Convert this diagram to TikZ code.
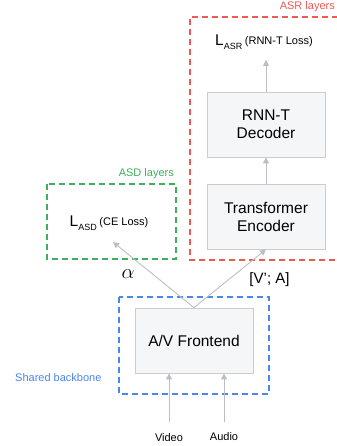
\documentclass[tikz,border=0pt]{standalone}
\usepackage{fontspec}
\setmainfont{Liberation Sans}
\usetikzlibrary{arrows.meta}
\definecolor{asrred}{HTML}{EE5A52}
\definecolor{asdgreen}{HTML}{3FAE5E}
\definecolor{bbblue}{HTML}{4A86EE}
\definecolor{boxfill}{HTML}{F5F6F8}
\definecolor{boxline}{HTML}{CCCCCC}
\definecolor{arrgray}{HTML}{BBBEC4}
\tikzset{
  block/.style={draw=boxline, fill=boxfill, line width=0.8bp, minimum width=118bp, minimum height=65bp, align=center, font=\fontsize{15.5bp}{18bp}\selectfont, inner sep=0pt},
  group/.style={line width=1.6bp, dash pattern=on 6bp off 4bp},
  flow/.style={draw=arrgray, line width=0.9bp, -{Triangle[length=6bp,width=6bp]}},
  grouplabel/.style={font=\fontsize{11bp}{13bp}\selectfont, inner sep=0pt},
  losslabel/.style={inner sep=0pt, font=\fontsize{15.5bp}{17bp}\selectfont}
}
\newcommand{\smalltxt}[1]{{\fontsize{11bp}{13bp}\selectfont #1}}
\newcommand{\subtxt}[1]{{\fontsize{9bp}{11bp}\selectfont #1}}
\begin{document}
\begin{tikzpicture}[x=1bp,y=-1bp]
\useasboundingbox (0,0) rectangle (336,446);
% group boxes
\draw[group, draw=asrred] (338,17) -- (190,17) -- (190,260) -- (338,260);
\draw[group, draw=asdgreen] (47,184) rectangle (176,259);
\draw[group, draw=bbblue] (119,297) rectangle (269,394);
% group labels
\node[grouplabel, text=asrred, anchor=east] (asrlab) at (335,7) {ASR layers};
\node[grouplabel, text=asdgreen, anchor=east] (asdlab) at (174,174) {ASD layers};
\node[grouplabel, text=bbblue, anchor=west] (bblab) at (15,378) {Shared backbone};
% blocks
\node[block] (dec) at (266,124.5) {RNN-T\\Decoder};
\node[block] (enc) at (266,216.5) {Transformer\\Encoder};
\node[block] (fe) at (194,340.5) {A/V Frontend};
% losses
\node[losslabel] (lasr) at (264,42) {L\raisebox{-0.5ex}{\subtxt{ASR}}\,\raisebox{0.15ex}{\smalltxt{(RNN-T Loss)}}};
\node[losslabel] (lasd) at (109,223) {L\raisebox{-0.5ex}{\subtxt{ASD}}\,\raisebox{0.15ex}{\smalltxt{(CE Loss)}}};
% inputs
\node[grouplabel] (video) at (169,438) {Video};
\node[grouplabel] (audio) at (224,437) {Audio};
\coordinate (vin) at (169,422);
\coordinate (ain) at (224,422);
\coordinate (asrtop) at (266,60);
\coordinate (asdin) at (113,242);
% connectors
\draw[flow] (vin) -- (vin |- fe.south);
\draw[flow] (ain) -- (ain |- fe.south);
\draw[flow] (fe.north) -- (enc.south);
\draw[flow] (fe.north) -- (asdin);
\draw[flow] (enc.north) -- (dec.south);
\draw[flow] (dec.north) -- (asrtop);
% edge labels
\node[inner sep=0pt, font=\fontsize{20bp}{22bp}\selectfont] (alpha) at (128,274) {$\alpha$};
\node[inner sep=0pt, font=\fontsize{15bp}{17bp}\selectfont] (va) at (269.5,280) {[V’; A]};
\end{tikzpicture}
\end{document}
